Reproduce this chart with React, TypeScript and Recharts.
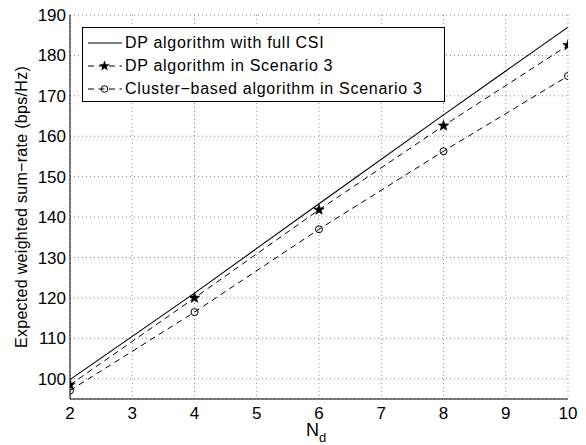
import { LineChart, Line, XAxis, YAxis, CartesianGrid, Legend } from 'recharts'

const nd = [2, 4, 6, 8, 10]
const fullCsi = [99.8, 121.2, 143.3, 165.3, 187]
const dpScenario3 = [98.5, 120, 141.8, 162.6, 182.5]
const clusterScenario3 = [97.1, 116.5, 137, 156.3, 174.9]

const xTicks = [2, 3, 4, 5, 6, 7, 8, 9, 10]
const yTicks = [100, 110, 120, 130, 140, 150, 160, 170, 180, 190]

const seriesNames = [
  'DP algorithm with full CSI',
  'DP algorithm in Scenario 3',
  'Cluster\u2212based algorithm in Scenario 3',
]

const data = nd.map((x, i) => ({
  nd: x,
  full: fullCsi[i],
  dp: dpScenario3[i],
  cluster: clusterScenario3[i],
}))

const FONT = 'Liberation Sans, Arial, Helvetica, sans-serif'
const tickStyle = { fontSize: 17, fontFamily: FONT, fill: '#000', style: { fontSize: 17 } }

function starPath(cx: number, cy: number, ro: number, ri: number) {
  let d = ''
  for (let k = 0; k < 10; k++) {
    const r = k % 2 === 0 ? ro : ri
    const a = -Math.PI / 2 + (k * Math.PI) / 5
    d += (k === 0 ? 'M' : 'L') + (cx + r * Math.cos(a)).toFixed(2) + ',' + (cy + r * Math.sin(a)).toFixed(2)
  }
  return d + 'Z'
}

function StarDot(props: any) {
  const { cx, cy, index } = props
  if (cx == null || cy == null) return <g key={index} />
  return <path key={index} d={starPath(cx, cy, 5.5, 2.3)} fill="#000" stroke="#000" strokeWidth={0.6} />
}

function NdLabel(props: any) {
  const vb = props.viewBox || {}
  const cx = vb.x + vb.width / 2 - 3
  return (
    <text x={cx} y={vb.y + 37} textAnchor="middle" fontFamily={FONT} fontSize={18} fill="#000">
      <tspan>N</tspan>
      <tspan dy={6} fontSize={13}>d</tspan>
    </text>
  )
}

function Sample({ kind }: { kind: 'solid' | 'star' | 'circle' }) {
  return (
    <svg width={36} height={12} style={{ display: 'block', flex: 'none' }}>
      <line x1={0} y1={6} x2={34} y2={6} stroke="#000" strokeWidth={1}
        strokeDasharray={kind === 'solid' ? undefined : '6 4.5'} />
      {kind === 'star' && <path d={starPath(16.5, 6, 5.5, 2.3)} fill="#000" />}
      {kind === 'circle' && <circle cx={16.5} cy={6} r={3.3} fill="none" stroke="#000" />}
    </svg>
  )
}

function LegendBox() {
  const kinds: ('solid' | 'star' | 'circle')[] = ['solid', 'star', 'circle']
  return (
    <div style={{
      border: '1px solid #000', background: '#fff', width: 356, height: 70,
      padding: '3px 0 0 5px', boxSizing: 'content-box', fontFamily: FONT, fontSize: 16, letterSpacing: 0.7,
    }}>
      {kinds.map((k, i) => (
        <div key={k} style={{ display: 'flex', alignItems: 'center', height: 23.3, whiteSpace: 'nowrap' }}>
          <Sample kind={k} />
          <span style={{ marginLeft: 1 }}>{seriesNames[i]}</span>
        </div>
      ))}
    </div>
  )
}

export default function App() {
  return (
    <div style={{ position: 'absolute', left: 0, top: 0, width: 586, height: 445, background: '#fff' }}>
      <LineChart width={586} height={445} data={data} margin={{ top: 15, right: 18, left: 0, bottom: 0 }}>
        <CartesianGrid stroke="#888" strokeDasharray="1 3" />
        <XAxis
          dataKey="nd" type="number" domain={[2, 10]} ticks={xTicks} allowDataOverflow
          height={46} tickSize={0} tickMargin={8} tick={tickStyle} fontSize={17}
          axisLine={{ stroke: '#000' }} tickLine={false} label={<NdLabel />}
        />
        <XAxis
          xAxisId="bin" dataKey="nd" type="number" domain={[2, 10]} ticks={xTicks} allowDataOverflow
          orientation="bottom" mirror height={0} tickSize={5} tick={false}
          axisLine={false} tickLine={{ stroke: '#000' }}
        />
        <XAxis
          xAxisId="top" dataKey="nd" type="number" domain={[2, 10]} ticks={xTicks} allowDataOverflow
          orientation="top" mirror height={0} tickSize={5} tick={false}
          axisLine={{ stroke: '#000' }} tickLine={{ stroke: '#000' }}
        />
        <YAxis
          type="number" domain={[95, 190]} ticks={yTicks} allowDataOverflow
          width={70} tickSize={0} tickMargin={4} tick={tickStyle} fontSize={17}
          axisLine={{ stroke: '#000' }} tickLine={false}
          label={{
            value: 'Expected weighted sum\u2212rate (bps/Hz)', angle: -90, position: 'insideLeft', offset: 21,
            style: { textAnchor: 'middle', fontFamily: FONT, fontSize: 16, letterSpacing: 0.3, fill: '#000' },
          }}
        />
        <YAxis
          yAxisId="lin" type="number" domain={[95, 190]} ticks={yTicks} allowDataOverflow
          orientation="left" mirror width={0} tickSize={5} tick={false}
          axisLine={false} tickLine={{ stroke: '#000' }}
        />
        <YAxis
          yAxisId="right" type="number" domain={[95, 190]} ticks={yTicks} allowDataOverflow
          orientation="right" mirror width={0} tickSize={5} tick={false}
          axisLine={{ stroke: '#000' }} tickLine={{ stroke: '#000' }}
        />
        <Legend
          layout="vertical" align="center" verticalAlign="middle"
          wrapperStyle={{ position: 'absolute', left: 82, top: 27, width: 'auto' }}
          content={<LegendBox />}
        />
        <Line dataKey="full" name={seriesNames[0]} stroke="#000" strokeWidth={1.1} dot={false} isAnimationActive={false} />
        <Line dataKey="dp" name={seriesNames[1]} stroke="#000" strokeWidth={1} strokeDasharray="6 4.5"
          dot={StarDot} activeDot={false} isAnimationActive={false} />
        <Line dataKey="cluster" name={seriesNames[2]} stroke="#000" strokeWidth={1} strokeDasharray="6 4.5"
          dot={{ r: 3.5, fill: 'none', stroke: '#000', strokeWidth: 1, strokeDasharray: '' }}
          activeDot={false} isAnimationActive={false} />
      </LineChart>
    </div>
  )
}
